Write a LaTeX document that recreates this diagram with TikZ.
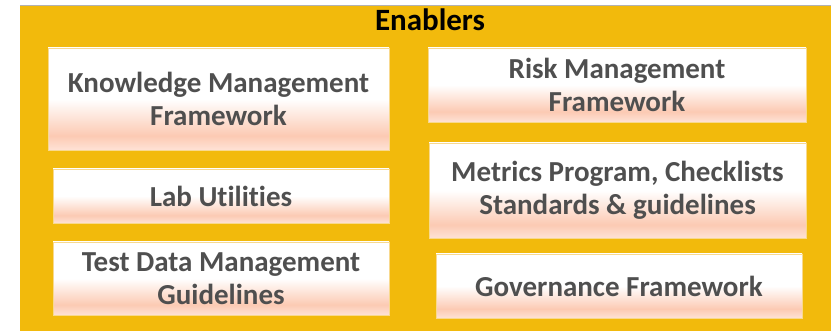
\documentclass[tikz,border=0pt]{standalone}
\usepackage{fontspec}
\setmainfont{Carlito}[Ligatures=NoCommon]
\definecolor{enyellow}{HTML}{F2BA0C}
\definecolor{enpeach}{HTML}{FCCAB3}
\definecolor{enpeachL}{HTML}{FEE2D6}
\definecolor{entext}{HTML}{4F4F4F}
\definecolor{enedge}{HTML}{F8D98E}
\pgfdeclareverticalshading{enshade}{100bp}{color(0bp)=(enpeachL); color(25bp)=(enpeachL); color(32bp)=(enpeach); color(50bp)=(white); color(100bp)=(white)}
\tikzset{
  enbox/.style={draw=enedge, line width=0.8pt, shading=enshade, inner sep=0pt, align=center,
    text=entext, font=\fontsize{29}{33}\selectfont\bfseries},
}
\begin{document}
\begin{tikzpicture}[x=1pt,y=-1pt]
\useasboundingbox (0,0) rectangle (831,331);
\fill[white] (0,0) rectangle (831,331);
\fill[enyellow] (20,6) rectangle (831,331);
\draw[gray!60, line width=1pt] (20,6) -- (831,6);
\node[font=\fontsize{31}{36}\selectfont\bfseries, text=black] (title) at (430,20) {Enablers};
\node[enbox, minimum width=341pt, minimum height=102pt] (km) at (218.5,99) {Knowledge Management\\Framework};
\node[enbox, minimum width=336pt, minimum height=54pt] (lab) at (221,196) {Lab Utilities};
\node[enbox, minimum width=336pt, minimum height=73pt] (tdm) at (221,278.5) {Test Data Management\\Guidelines};
\node[enbox, minimum width=378pt, minimum height=74pt] (risk) at (617,85) {Risk Management\\Framework};
\node[enbox, minimum width=377pt, minimum height=95pt] (met) at (617.5,190.5) {Metrics Program, Checklists\\Standards \& guidelines};
\node[enbox, minimum width=366pt, minimum height=64pt] (gov) at (619,286) {Governance Framework};
\end{tikzpicture}
\end{document}
